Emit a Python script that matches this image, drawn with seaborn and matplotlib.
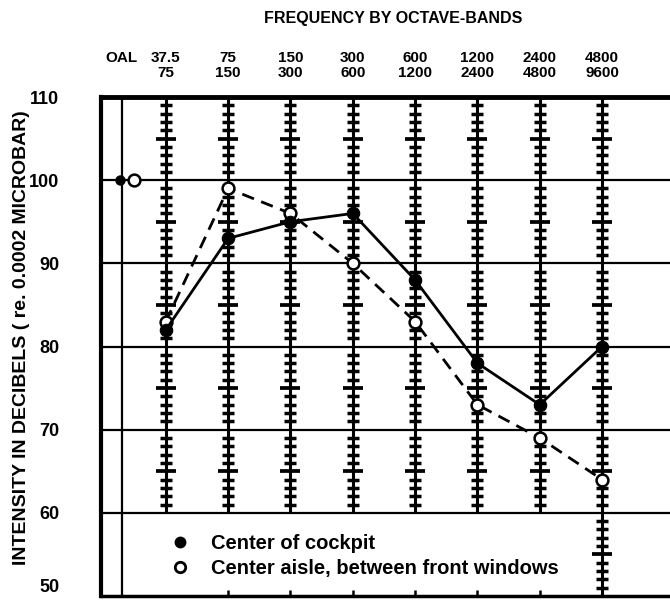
import numpy as np
import pandas as pd
import matplotlib.pyplot as plt
import seaborn as sns
from matplotlib.lines import Line2D

# octave bands (lower / upper edge, Hz)
band_lo = ["37.5", "75", "150", "300", "600", "1200", "2400", "4800"]
band_hi = ["75", "150", "300", "600", "1200", "2400", "4800", "9600"]

# sound levels, dB re 0.0002 microbar
cockpit_db = [82, 93, 95, 96, 88, 78, 73, 80]
aisle_db = [83, 99, 96, 90, 83, 73, 69, 64]
cockpit_oal = 100
aisle_oal = 100

y_ticks = [50, 60, 70, 80, 90, 100, 110]

# layout
band_x = np.arange(1, len(band_lo) + 1)
oal_x = 0.29
oal_off = 0.2

sns.set_theme(style="white")
plt.rcParams["font.family"] = ["Liberation Sans", "DejaVu Sans"]
plt.rcParams["font.weight"] = "bold"
plt.rcParams["text.color"] = "black"
plt.rcParams["xtick.color"] = "black"
plt.rcParams["ytick.color"] = "black"

fig = plt.figure(figsize=(6.7, 6.01), dpi=100)
ax = fig.add_axes([101 / 670, 5 / 601, 569 / 670, 499 / 601])
ax.set_xlim(-0.04, 9.09)
ax.set_ylim(50, 110)

# horizontal grid
for yv in y_ticks[1:-1]:
    ax.axhline(yv, color="black", lw=1.6, zorder=1)
ax.axvline(oal_x, color="black", lw=1.6, zorder=1)

# hatched band scales
for i, xv in enumerate(band_x):
    lo = 50 if i == len(band_x) - 1 else 60
    ax.vlines(xv, lo, 110, color="black", lw=2.2, zorder=2)
    ticks = np.arange(lo + 1, 110)
    minor = ticks[ticks % 5 != 0]
    major = ticks[(ticks % 5 == 0) & (ticks % 10 != 0)]
    ax.plot(np.full(len(minor), xv), minor, ls="none", marker="_",
            ms=8, mew=2.5, color="black", zorder=2)
    ax.plot(np.full(len(major), xv), major, ls="none", marker="_",
            ms=15, mew=2.7, color="black", zorder=2)
    if 0 < i < len(band_x) - 1:
        ax.vlines(xv, 50, 50.7, color="black", lw=1.8, zorder=2)

df = pd.DataFrame({"x": np.concatenate([band_x, band_x]),
                   "db": cockpit_db + aisle_db,
                   "loc": ["cockpit"] * len(band_x) + ["aisle"] * len(band_x)})

sns.lineplot(data=df[df["loc"] == "cockpit"], x="x", y="db", ax=ax,
             color="black", lw=2.0, marker="o", markersize=9,
             markeredgecolor="black", zorder=4)
sns.lineplot(data=df[df["loc"] == "aisle"], x="x", y="db", ax=ax,
             color="black", lw=2.0, marker="o",
             markersize=8.5, markerfacecolor="white", markeredgecolor="black",
             markeredgewidth=1.8, zorder=3)
ax.lines[-1].set_linestyle((0, (4.5, 2.8)))

ax.plot(oal_x - 0.02, cockpit_oal, "o", color="black", ms=6.5, zorder=4)
ax.plot(oal_x + oal_off, aisle_oal, "o", mfc="white", mec="black",
        mew=1.8, ms=8.5, zorder=4)

# axes styling
for side in ["top", "left", "bottom"]:
    ax.spines[side].set_color("black")
ax.spines["top"].set_linewidth(3.5)
ax.spines["left"].set_linewidth(3)
ax.spines["bottom"].set_linewidth(2.5)
ax.spines["right"].set_visible(False)

ax.set_yticks(y_ticks)
ax.set_yticklabels([str(v) for v in y_ticks], fontsize=13, fontweight="bold")
ax.get_yticklabels()[0].set_verticalalignment("bottom")
ax.tick_params(axis="y", length=0, pad=30)

ax.xaxis.tick_top()
ax.set_xticks([oal_x] + list(band_x))
ax.set_xticklabels(["OAL\n "] + [f"{a}\n{b}" for a, b in zip(band_lo, band_hi)],
                   fontsize=11, fontweight="bold", linespacing=1.15)
ax.tick_params(axis="x", length=0, pad=12)
ax.set_xlabel("")
ax.set_ylabel("")

fig.text(393 / 670, 1 - 18 / 601, "FREQUENCY BY OCTAVE-BANDS", ha="center",
         va="center", fontsize=11.5, fontweight="bold")
fig.text(22 / 670, 1 - 338 / 601, "INTENSITY IN DECIBELS ( re. 0.0002 MICROBAR)",
         rotation=90, ha="center", va="center", fontsize=14, fontweight="bold")

handles = [Line2D([], [], ls="none", marker="o", color="black", ms=7.5),
           Line2D([], [], ls="none", marker="o", mfc="white", mec="black",
                  mew=2, ms=7.5)]
ax.legend(handles, ["Center of cockpit", "Center aisle, between front windows"],
          loc="lower left", bbox_to_anchor=(0.09, 0.0), frameon=False,
          prop={"size": 14.5, "weight": "bold"}, handletextpad=1.0,
          labelspacing=0.3, handlelength=1.0)

fig.savefig("out.png", dpi=100)
